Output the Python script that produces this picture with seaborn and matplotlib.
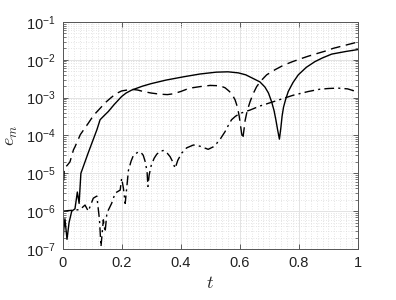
import matplotlib

matplotlib.use("Agg")
import matplotlib.pyplot as plt
import matplotlib.ticker as mticker
import numpy as np
import pandas as pd
import seaborn as sns

# solid curve
t_solid = [0.0, 0.004, 0.008, 0.015, 0.022, 0.031, 0.042, 0.05, 0.056, 0.062,
           0.087, 0.116, 0.127, 0.14, 0.155, 0.175, 0.2, 0.215, 0.234, 0.27,
           0.3, 0.35, 0.41, 0.465, 0.52, 0.56, 0.595, 0.62, 0.645, 0.668,
           0.685, 0.697, 0.708, 0.716, 0.722, 0.728, 0.734, 0.739, 0.743, 0.748,
           0.755, 0.764, 0.78, 0.798, 0.825, 0.854, 0.88, 0.911, 0.96, 1.0]
e_solid = [1.0e-7, 3.2e-7, 6.3e-7, 1.8e-7, 5.0e-7, 1.0e-6, 1.15e-6, 3.2e-6, 1.6e-6, 1.0e-5,
           3.5e-5, 1.4e-4, 2.6e-4, 3.3e-4, 4.3e-4, 6.6e-4, 1.07e-3, 1.32e-3, 1.58e-3, 2.0e-3,
           2.34e-3, 2.9e-3, 3.55e-3, 4.2e-3, 4.7e-3, 4.8e-3, 4.5e-3, 4.0e-3, 3.2e-3, 2.6e-3,
           1.9e-3, 1.32e-3, 7.6e-4, 4.5e-4, 2.6e-4, 1.4e-4, 8.0e-5, 1.6e-4, 3.2e-4, 5.6e-4,
           8.9e-4, 1.45e-3, 2.5e-3, 4.0e-3, 6.3e-3, 8.9e-3, 1.12e-2, 1.41e-2, 1.66e-2, 1.86e-2]

# dashed curve
t_dashed = [0.0, 0.003, 0.006, 0.015, 0.025, 0.037, 0.042, 0.06, 0.087, 0.105,
            0.127, 0.145, 0.161, 0.18, 0.2, 0.234, 0.255, 0.273, 0.3, 0.33,
            0.355, 0.375, 0.4, 0.42, 0.44, 0.465, 0.5, 0.533, 0.55, 0.565,
            0.575, 0.584, 0.592, 0.598, 0.606, 0.61, 0.614, 0.618, 0.625, 0.635,
            0.645, 0.657, 0.672, 0.691, 0.72, 0.747, 0.775, 0.804, 0.83, 0.86,
            0.89, 0.916, 0.96, 1.0]
e_dashed = [1.0e-6, 5.0e-6, 1.4e-5, 1.6e-5, 2.0e-5, 4.2e-5, 5.0e-5, 1.05e-4, 2.1e-4, 3.4e-4,
            5.2e-4, 7.4e-4, 9.5e-4, 1.26e-3, 1.5e-3, 1.66e-3, 1.58e-3, 1.45e-3, 1.32e-3, 1.23e-3,
            1.2e-3, 1.26e-3, 1.45e-3, 1.66e-3, 1.82e-3, 1.95e-3, 2.1e-3, 2.05e-3, 1.82e-3, 1.45e-3,
            1.17e-3, 8.7e-4, 5.6e-4, 3.2e-4, 1.15e-4, 8.0e-5, 1.4e-4, 2.5e-4, 4.5e-4, 7.9e-4,
            1.26e-3, 1.95e-3, 2.8e-3, 4.0e-3, 5.5e-3, 7.1e-3, 8.7e-3, 1.05e-2, 1.23e-2, 1.45e-2,
            1.7e-2, 2.0e-2, 2.45e-2, 2.95e-2]

# dash-dot curve
t_dashdot = [0.0, 0.03, 0.059, 0.076, 0.087, 0.104, 0.116, 0.125, 0.13, 0.138,
             0.144, 0.15, 0.166, 0.178, 0.195, 0.2, 0.206, 0.212, 0.223, 0.232,
             0.24, 0.257, 0.266, 0.273, 0.28, 0.286, 0.289, 0.293, 0.3, 0.31,
             0.319, 0.33, 0.341, 0.353, 0.364, 0.373, 0.381, 0.39, 0.403, 0.42,
             0.443, 0.465, 0.493, 0.51, 0.522, 0.535, 0.55, 0.56, 0.572, 0.585,
             0.6, 0.635, 0.668, 0.7, 0.74, 0.78, 0.832, 0.87, 0.9, 0.933,
             0.965, 1.0]
e_dashdot = [1.0e-6, 1.05e-6, 1.1e-6, 1.45e-6, 1.0e-6, 2.2e-6, 2.5e-6, 5.9e-7, 1.15e-7, 5.9e-7,
             2.8e-7, 8.9e-7, 1.6e-6, 3.0e-6, 3.6e-6, 7.4e-6, 4.0e-6, 1.6e-6, 1.2e-5, 2.1e-5,
             3.0e-5, 3.7e-5, 3.5e-5, 3.0e-5, 2.0e-5, 1.1e-5, 4.5e-6, 8.9e-6, 1.6e-5, 2.5e-5,
             3.2e-5, 3.8e-5, 4.0e-5, 3.5e-5, 2.75e-5, 2.0e-5, 1.35e-5, 2.2e-5, 3.4e-5, 4.7e-5,
             5.6e-5, 5.2e-5, 4.3e-5, 5.0e-5, 6.2e-5, 8.3e-5, 1.26e-4, 1.78e-4, 2.6e-4, 3.2e-4,
             3.8e-4, 4.7e-4, 6.0e-4, 7.2e-4, 9.1e-4, 1.15e-3, 1.45e-3, 1.66e-3, 1.74e-3, 1.78e-3,
             1.7e-3, 1.4e-3]

x_ticks = [0, 0.2, 0.4, 0.6, 0.8, 1]
y_exps = [-7, -6, -5, -4, -3, -2, -1]

sns.set_theme(style="white")
plt.rcParams["font.family"] = ["Liberation Sans", "DejaVu Sans"]
plt.rcParams["mathtext.fontset"] = "cm"

fig = plt.figure(figsize=(3.96, 3.0), dpi=100)
ax = fig.add_axes([0.158, 0.17, 0.746, 0.757])

series = [
    (t_solid, e_solid, None),
    (t_dashed, e_dashed, (7, 4)),
    (t_dashdot, e_dashdot, (7, 3, 1.5, 3)),
]
for t, e, dash in series:
    df = pd.DataFrame({"t": t, "e": e})
    sns.lineplot(data=df, x="t", y="e", ax=ax, color="black", lw=1.0,
                 estimator=None, sort=False)
    if dash is not None:
        ax.lines[-1].set_dashes(dash)

ax.set_yscale("log")
ax.set_xlim(0, 1)
ax.set_ylim(1e-7, 1e-1)
ax.set_xticks(x_ticks)
ax.set_xticklabels([f"{v:g}" for v in x_ticks])
ax.set_yticks([10.0 ** k for k in y_exps])
ax.set_yticklabels([r"$\mathregular{10^{%d}}$" % k for k in y_exps])
ax.yaxis.set_minor_locator(mticker.LogLocator(base=10, subs=np.arange(2, 10), numticks=20))
ax.yaxis.set_minor_formatter(mticker.NullFormatter())
ax.xaxis.set_minor_locator(mticker.MultipleLocator(0.02))

ax.grid(which="major", color="#e3e3e3", lw=0.7, ls="-")
ax.grid(which="minor", color="#dcdcdc", lw=0.6, ls=(0, (1, 2)))
ax.set_axisbelow(True)

ax.tick_params(which="major", direction="in", length=3.5, width=0.6, color="#444444",
               labelsize=10.5, labelcolor="#222222", top=True, right=True, left=True, bottom=True, pad=5)
ax.tick_params(which="minor", direction="in", length=2, width=0.5, color="#444444",
               left=True, right=True, top=False, bottom=False)
for s in ax.spines.values():
    s.set_color("#555555")
    s.set_linewidth(0.7)

ax.set_xlabel("$t$", fontsize=13, labelpad=4)
ax.set_ylabel("$e_m$", fontsize=13, labelpad=4)

plt.savefig("out.png", dpi=100)
plt.close()
